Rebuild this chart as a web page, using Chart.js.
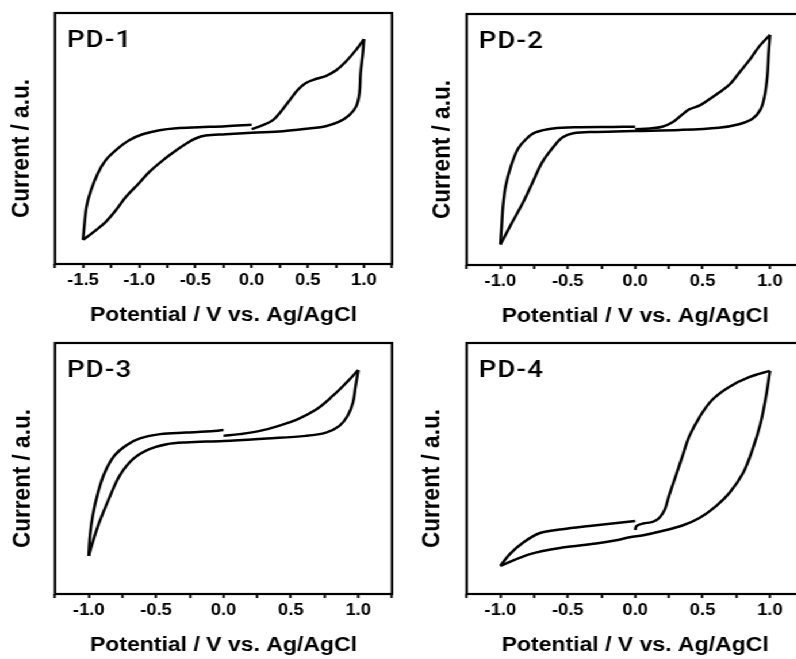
<!DOCTYPE html>
<html>
<head>
<meta charset="utf-8">
<title>PD cyclic voltammograms</title>
<script src="https://cdn.jsdelivr.net/npm/chart.js@4.4.1/dist/chart.umd.min.js"></script>
<style>
  html, body { margin: 0; padding: 0; background: #fff; width: 796px; height: 659px; overflow: hidden; }
  /* the original figure is a little wider than tall, so stretch the whole sheet */
  #figure { position: absolute; left: 0; top: 0; width: 720px; height: 659px; transform: scaleX(1.15); transform-origin: 0 0; }
  #figure canvas { position: absolute; }
</style>
</head>
<body>
<div id="figure">
  <canvas id="pd1" width="346" height="330" style="left:0px;top:0px"></canvas>
  <canvas id="pd2" width="346" height="330" style="left:358px;top:1px"></canvas>
  <canvas id="pd3" width="346" height="330" style="left:0px;top:330px"></canvas>
  <canvas id="pd4" width="346" height="330" style="left:358px;top:330px"></canvas>
</div>
<script>
// potential (V vs. Ag/AgCl) and current (a.u.), one full cycle starting at 0 V
const pd1Potential = [0.00, 0.10, 0.19, 0.26, 0.34, 0.41, 0.48, 0.57, 0.66, 0.75, 0.84, 0.93, 1.00,
  0.99, 0.97, 0.96, 0.93, 0.87, 0.78, 0.66, 0.51, 0.28, 0.00, -0.23, -0.41, -0.50, -0.58, -0.67, -0.79, -0.91, -1.00, -1.12, -1.21, -1.30, -1.39, -1.50,
  -1.49, -1.47, -1.43, -1.37, -1.30, -1.21, -1.09, -0.97, -0.82, -0.67, -0.47, -0.23, 0.00];
const pd1Current = [53.7, 55.3, 57.3, 60.7, 65.3, 69.3, 72.0, 73.7, 74.9, 77.1, 80.7, 85.3, 89.6,
  84.0, 76.0, 68.0, 62.7, 59.3, 56.7, 54.9, 54.0, 52.9, 52.3, 51.7, 51.2, 50.0, 48.0, 45.3, 41.3, 36.7, 32.3, 26.7, 21.3, 16.7, 13.3, 9.6,
  14.7, 22.7, 29.3, 36.0, 41.3, 45.3, 49.3, 51.7, 53.3, 54.1, 54.5, 54.9, 55.5];

const pd2Potential = [0.00, 0.11, 0.20, 0.28, 0.35, 0.40, 0.48, 0.55, 0.62, 0.70, 0.77, 0.85, 0.92, 1.00,
  0.99, 0.98, 0.96, 0.93, 0.87, 0.77, 0.62, 0.33, 0.00, -0.29, -0.46, -0.54, -0.61, -0.69, -0.76, -0.83, -0.91, -1.00,
  -0.99, -0.98, -0.96, -0.92, -0.87, -0.81, -0.74, -0.61, -0.41, -0.17, 0.00];
const pd2Current = [54.1, 54.4, 55.1, 57.0, 60.0, 62.0, 63.6, 66.0, 68.6, 71.9, 76.5, 81.8, 87.1, 91.7,
  84.4, 75.2, 67.3, 62.0, 58.3, 56.1, 54.7, 53.8, 53.4, 53.0, 52.5, 50.8, 46.8, 40.9, 33.0, 25.1, 17.2, 8.2,
  15.8, 23.7, 31.7, 39.6, 46.2, 50.1, 52.8, 54.4, 54.9, 55.0, 55.1];

const pd3Potential = [0.00, 0.12, 0.27, 0.41, 0.56, 0.69, 0.81, 0.91, 1.00,
  0.98, 0.96, 0.92, 0.86, 0.76, 0.61, 0.32, 0.00, -0.28, -0.42, -0.55, -0.67, -0.77, -0.84, -0.92, -0.97, -1.00,
  -0.99, -0.97, -0.93, -0.88, -0.81, -0.72, -0.62, -0.47, -0.28, -0.13, 0.00];
const pd3Current = [63.0, 63.7, 65.0, 67.0, 69.9, 73.6, 78.9, 84.1, 89.2,
  82.8, 76.2, 70.9, 67.0, 64.3, 63.0, 62.0, 61.0, 60.4, 59.7, 57.7, 53.8, 47.2, 39.2, 28.7, 20.7, 15.2,
  23.4, 31.3, 40.6, 48.5, 55.1, 59.3, 62.0, 63.7, 64.3, 64.7, 65.3];

const pd4Potential = [0.00, 0.01, 0.06, 0.13, 0.18, 0.22, 0.25, 0.30, 0.35, 0.40, 0.48, 0.57, 0.70, 0.85, 1.00,
  0.97, 0.93, 0.87, 0.80, 0.70, 0.60, 0.48, 0.35, 0.20, 0.06, -0.04, -0.14, -0.29, -0.54, -0.78, -1.00,
  -0.93, -0.83, -0.71, -0.54, -0.34, -0.17, 0.00];
const pd4Current = [25.5, 27.1, 28.1, 28.7, 30.4, 33.7, 39.0, 46.9, 54.8, 62.7, 70.7, 77.3, 82.6, 86.5, 88.9,
  78.6, 68.0, 57.5, 48.2, 40.3, 35.0, 30.4, 27.3, 25.1, 23.4, 22.6, 21.4, 20.1, 18.5, 15.9, 11.2,
  15.9, 20.5, 24.2, 25.8, 27.1, 28.1, 29.1];

// labelled ticks on the potential axis, and its range
const pd1Ticks = [-1.5, -1.0, -0.5, 0.0, 0.5, 1.0];
const pd1Range = [-1.75, 1.25];
const wideTicks = [-1.0, -0.5, 0.0, 0.5, 1.0];
const wideRange = [-1.25, 1.25];

const xTitle = "Potential / V vs. Ag/AgCl";
const yTitle = "Current / a.u.";
const fontFamily = "'Liberation Sans', Arial, Helvetica, sans-serif";

// frame, panel name and the rotated current label
const panelDecor = {
  id: "panelDecor",
  afterDatasetsDraw(chart, args, opts) {
    const { ctx, chartArea: a } = chart;
    ctx.save();
    ctx.strokeStyle = "#000";
    ctx.lineWidth = 2.2;
    ctx.strokeRect(a.left, a.top, a.right - a.left, a.bottom - a.top);

    ctx.fillStyle = "#000";
    ctx.font = "500 24px Roboto, 'Liberation Sans', sans-serif";
    ctx.letterSpacing = "1px";
    ctx.textAlign = "left";
    ctx.textBaseline = "alphabetic";
    ctx.fillText(opts.label, a.left + 10.5, a.top + 34);
    ctx.letterSpacing = "0px";

    ctx.font = "bold 22.5px " + fontFamily;
    ctx.translate(opts.titleX, (a.top + a.bottom) / 2 + 10);
    ctx.rotate(-Math.PI / 2);
    ctx.textAlign = "center";
    ctx.textBaseline = "middle";
    ctx.fillText(yTitle, 0, 0);
    ctx.restore();
  },
};

// split one cycle into its three sweeps so the turning points stay sharp
function sweeps(potential, current) {
  const iMax = potential.indexOf(Math.max(...potential));
  const iMin = potential.indexOf(Math.min(...potential));
  const cuts = [0, Math.min(iMax, iMin), Math.max(iMax, iMin), potential.length - 1];
  const out = [];
  for (let k = 0; k < 3; k++) {
    const pts = [];
    for (let j = cuts[k]; j <= cuts[k + 1]; j++) pts.push({ x: potential[j], y: current[j] });
    out.push(pts);
  }
  return out;
}

function drawPanel(id, label, potential, current, majorTicks, range, titleX) {
  const minor = [];
  majorTicks.forEach((v) => {
    [v - 0.25, v + 0.25].forEach((m) => {
      if (m >= range[0] - 1e-9 && m <= range[1] + 1e-9) minor.push(m);
    });
  });
  const allTicks = [...new Set([...majorTicks, ...minor].map((v) => Math.round(v * 100) / 100))].sort((p, q) => p - q);

  new Chart(document.getElementById(id), {
    type: "line",
    data: {
      datasets: sweeps(potential, current).map((pts) => ({
        data: pts,
        borderColor: "#000",
        borderWidth: 2.5,
        pointRadius: 0,
        tension: 0.35,
        fill: false,
      })),
    },
    options: {
      responsive: false,
      animation: false,
      layout: { padding: { top: 13, right: 5.1, bottom: 0, left: 0 } },
      scales: {
        x: {
          type: "linear",
          min: range[0],
          max: range[1],
          afterBuildTicks: (scale) => {
            scale.ticks = allTicks.map((v) => ({ value: v }));
          },
          afterFit: (scale) => {
            scale.height = 66;
          },
          ticks: {
            autoSkip: false,
            maxRotation: 0,
            padding: 3,
            color: "#000",
            font: { family: fontFamily, size: 16, weight: "bold" },
            callback: (v) => (majorTicks.some((m) => Math.abs(m - v) < 1e-6) ? (Math.round(v * 2) / 2).toFixed(1) : ""),
          },
          grid: { drawOnChartArea: false, drawTicks: true, tickLength: 4, tickWidth: 2, tickColor: "#000" },
          border: { display: false },
          title: {
            display: true,
            text: xTitle,
            color: "#000",
            font: { family: fontFamily, size: 20, weight: "bold" },
            padding: { top: 0, bottom: 3 },
          },
        },
        y: {
          min: 0,
          max: 100,
          afterFit: (scale) => {
            scale.width = 47.8;
          },
          ticks: { display: false },
          grid: { display: false },
          border: { display: false },
        },
      },
      plugins: {
        legend: { display: false },
        tooltip: { enabled: false },
        panelDecor: { label: label, titleX: titleX },
      },
    },
    plugins: [panelDecor],
  });
}

document.addEventListener("DOMContentLoaded", () => {
  drawPanel("pd1", "PD-1", pd1Potential, pd1Current, pd1Ticks, pd1Range, 19);
  drawPanel("pd2", "PD-2", pd2Potential, pd2Current, wideTicks, wideRange, 27);
  drawPanel("pd3", "PD-3", pd3Potential, pd3Current, wideTicks, wideRange, 19.5);
  drawPanel("pd4", "PD-4", pd4Potential, pd4Current, wideTicks, wideRange, 18);
});
</script>
</body>
</html>
